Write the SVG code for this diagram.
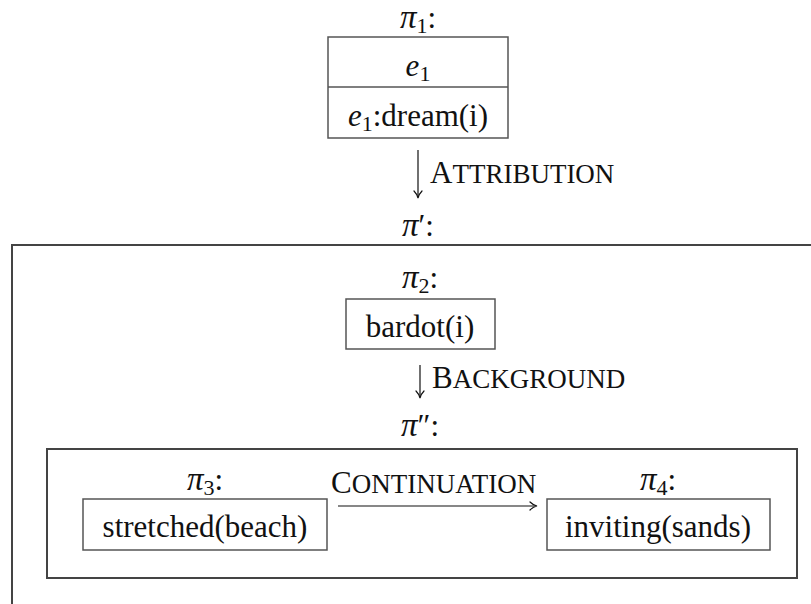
<svg xmlns="http://www.w3.org/2000/svg" width="811" height="604" viewBox="0 0 811 604">
<style>
text{font-family:"Liberation Serif","Times New Roman",serif;fill:#111;font-size:31px}
.c{text-anchor:middle}
.i{font-style:italic}
.p{font-style:italic;font-size:33px}
.sub{font-size:22px}
.sc{font-size:27px}
.box{fill:#fff;stroke:#555;stroke-width:1.5}
.frame{fill:none;stroke:#444;stroke-width:2}
.edge{fill:none;stroke:#111;stroke-width:1.2}
.head{fill:none;stroke:#111;stroke-width:1.2;stroke-linecap:round}
</style>
<g id="frame-pi-prime">
<rect class="frame" x="12" y="245" width="830" height="400"/>
</g>
<g id="frame-pi-dprime">
<rect class="frame" x="47" y="449" width="750" height="129"/>
</g>
<g id="pi1">
<text class="c" x="418" y="28"><tspan class="p">π</tspan><tspan class="sub" dy="5">1</tspan><tspan dy="-5">:</tspan></text>
<rect class="box" x="328" y="37" width="180" height="101"/>
<line x1="328" y1="87" x2="508" y2="87" stroke="#555" stroke-width="1.5"/>
<text class="c" x="418" y="76"><tspan class="i">e</tspan><tspan class="sub" dy="5">1</tspan></text>
<text class="c" x="418" y="126"><tspan class="i">e</tspan><tspan class="sub" dy="5">1</tspan><tspan dy="-5">:dream(i)</tspan></text>
</g>
<g id="pi-prime-label">
<text class="c" x="418" y="236"><tspan class="p">π</tspan>′:</text>
</g>
<g id="pi2">
<text class="c" x="420" y="288"><tspan class="p">π</tspan><tspan class="sub" dy="5">2</tspan><tspan dy="-5">:</tspan></text>
<rect class="box" x="346" y="299" width="149" height="50"/>
<text class="c" x="420" y="337">bardot(i)</text>
</g>
<g id="pi-dprime-label">
<text class="c" x="420" y="436"><tspan class="p">π</tspan>″:</text>
</g>
<g id="pi3">
<text class="c" x="205" y="490"><tspan class="p">π</tspan><tspan class="sub" dy="5">3</tspan><tspan dy="-5">:</tspan></text>
<rect class="box" x="83" y="499" width="244" height="51"/>
<text class="c" x="205" y="537">stretched(beach)</text>
</g>
<g id="pi4">
<text class="c" x="658" y="490"><tspan class="p">π</tspan><tspan class="sub" dy="5">4</tspan><tspan dy="-5">:</tspan></text>
<rect class="box" x="547" y="499" width="223" height="51"/>
<text class="c" x="658" y="537">inviting(sands)</text>
</g>
<g id="connectors">
<line class="edge" x1="418" y1="150" x2="418" y2="197"/>
<path class="head" d="M414 191 Q417 194 418 198 Q419 194 422 191"/>
<text x="430" y="183">A<tspan class="sc">TTRIBUTION</tspan></text>
<line class="edge" x1="420" y1="365" x2="420" y2="397"/>
<path class="head" d="M416 391 Q419 394 420 398 Q421 394 424 391"/>
<text x="432" y="388">B<tspan class="sc">ACKGROUND</tspan></text>
<line class="edge" x1="338" y1="506" x2="536" y2="506"/>
<path class="head" d="M530 502 Q533 505 537 506 Q533 507 530 510"/>
<text x="331" y="493">C<tspan class="sc">ONTINUATION</tspan></text>
</g>
</svg>
